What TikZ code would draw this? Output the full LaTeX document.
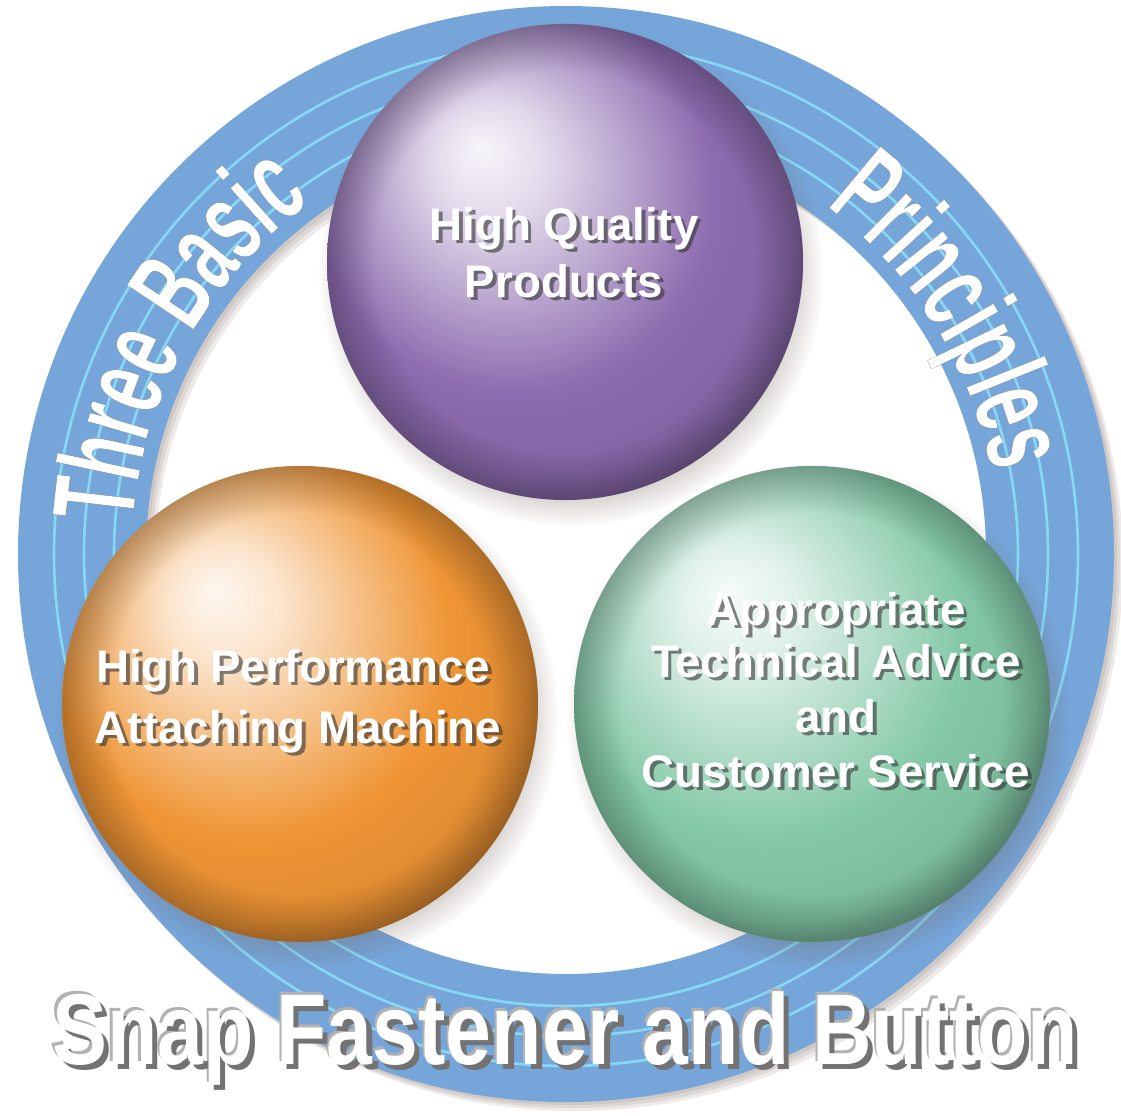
\documentclass[tikz,border=0pt]{standalone}
\usepackage{fontspec}
\setmainfont{Liberation Sans}
\newfontfamily\ringfont{Liberation Sans}[FakeStretch=0.58]
\newfontfamily\snapfont{Liberation Sans}[FakeStretch=0.82]
\usetikzlibrary{decorations.text, fadings, positioning}

\definecolor{ringblue}{HTML}{76A5D9}
\definecolor{ringcyan}{HTML}{86D8F6}
\definecolor{orbpurple}{HTML}{8C6BAE}
\definecolor{orborange}{HTML}{EF9535}
\definecolor{orbgreen}{HTML}{84C8A8}
\definecolor{dropcol}{HTML}{6B5A50}

% ball shading, light from the upper left
\newcommand{\declareorb}[2]{%
  \pgfdeclareradialshading{#1}{\pgfpoint{-9bp}{12bp}}{%
    color(0bp)=(#2!7!white); color(6bp)=(#2!25!white); color(14bp)=(#2!65!white);
    color(21bp)=(#2); color(28bp)=(#2!94!black); color(33bp)=(#2!76!black);
    color(38bp)=(#2!64!black); color(50bp)=(#2!64!black)}}
\declareorb{purpleball}{orbpurple}
\declareorb{orangeball}{orborange}
\declareorb{greenball}{orbgreen}

\pgfdeclareradialshading{orbrimshade}{\pgfpointorigin}{%
  color(0bp)=(black); color(20bp)=(black); color(25bp)=(black!75); color(50bp)=(black!75)}
\pgfdeclarefading{orbrim}{\pgfuseshading{orbrimshade}}

\newcommand{\orbline}[3]{%
  \node[orbtext, text=black!80, opacity=.6, xshift=1.1pt, yshift=-1.1pt] (#1-s) at (#2) {#3};
  \node[orbtext] (#1) at (#2) {#3};}

\newcommand{\ringword}[2]{%
  \path[transform canvas={shift={(3,-3)}}, decorate, decoration={text along path, text align=center,
      text={|\ringfont\bfseries\fontsize{33}{35}\selectfont\color{black!85}|#2}}]
    (hub) ++(#1+40:434) arc[start angle=#1+40, end angle=#1-40, radius=434];
  \path[decorate, decoration={text along path, text align=center,
      text={|\ringfont\bfseries\fontsize{33}{35}\selectfont\color{white}|#2}}]
    (hub) ++(#1+40:434) arc[start angle=#1+40, end angle=#1-40, radius=434];}

\begin{document}
\begin{tikzpicture}[x=0.1mm, y=0.1mm,
    orb/.style={circle, minimum size=4.76cm, inner sep=0pt, shading=#1,
      postaction={fill=black, path fading=orbrim}},
    orbtext/.style={font=\bfseries\fontsize{13}{15}\selectfont, text=white, anchor=base, inner sep=0pt},
    snaptext/.style={font=\snapfont\bfseries\fontsize{28.6}{30}\selectfont, text=white, anchor=base, inner sep=0pt},
    dropshadow/.style={fill=dropcol, opacity=.45, path fading=circle with fuzzy edge 20 percent},
    ringline/.style={draw=ringcyan, line width=0.75pt}]

  \useasboundingbox (0,0) rectangle (1121,-1115);
  \fill[white] (0,0) rectangle (1121,-1115);

  \coordinate (hub) at (566,-554);
  \coordinate (pq) at (565,-262);
  \coordinate (pm) at (300,-704);
  \coordinate (pa) at (812,-704);

  % ring and its shadow
  \foreach \s in {3,6,9}
    \fill[dropcol, opacity=.12, even odd rule, transform canvas={shift={(\s,-\s)}}]
      (hub) circle (548) (hub) circle (420);
  \fill[ringblue, even odd rule] (hub) circle (548) (hub) circle (420);
  \foreach \r in {452,482,512}
    \draw[ringline] (hub) circle (\r);

  \ringword{151}{Three Basic}
  \ringword{32}{Principles}

  % spheres
  \foreach \p in {pq,pm,pa}
    \fill[dropshadow] (\p) ++(6,-12) circle (252);
  \node[orb=purpleball] (quality) at (pq) {};
  \node[orb=orangeball] (machine) at (pm) {};
  \node[orb=greenball] (advice) at (pa) {};

  \orbline{q1}{564,-240}{High Quality}
  \orbline{q2}{564,-297}{Products}
  \orbline{m1}{293,-682}{High Performance}
  \orbline{m2}{298,-743}{Attaching Machine}
  \orbline{a1}{836,-625}{Appropriate}
  \orbline{a2}{836,-677}{Technical Advice}
  \orbline{a3}{836,-732}{and}
  \orbline{a4}{836,-787}{Customer Service}

  % title
  \node[snaptext, text=black!30, xshift=-0.6pt, yshift=0.6pt] (snap-e) at (565,-1064) {Snap Fastener and Button};
  \node[snaptext, text=black!55, xshift=1.5pt, yshift=-1.5pt] (snap-s) at (565,-1064) {Snap Fastener and Button};
  \node[snaptext] (snap) at (565,-1064) {Snap Fastener and Button};
\end{tikzpicture}
\end{document}
